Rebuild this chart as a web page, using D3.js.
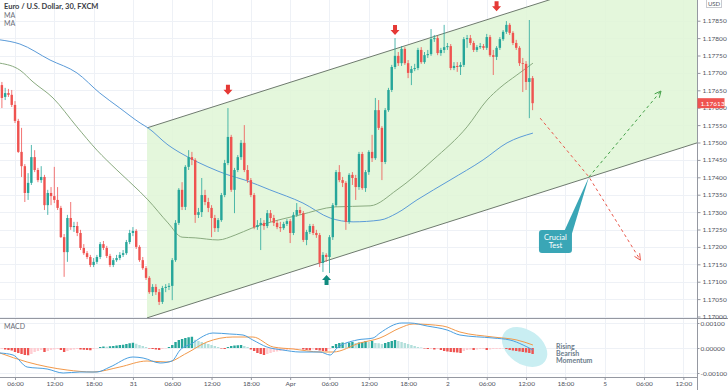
<!DOCTYPE html>
<html>
<head>
<meta charset="UTF-8">
<title>EURUSD 30</title>
<style>
  body { margin: 0; background: #fff; }
  svg text { font-family: "Lato", "DejaVu Sans", sans-serif; }
</style>
</head>
<body>
<div id="chart"></div>
<script src="https://d3js.org/d3.v7.min.js"></script>
<script>
// bar index 0 = Mar 30 00:00, one bar = 30 min; first visible candle is bar 8
var firstBar = 8;

var opens = [1.17665,1.17631,1.17642,1.17637,1.17608,1.17562,1.17473,1.17432,1.17355,1.17384,
1.17458,1.17421,1.17392,1.17401,1.17320,1.17355,1.17346,1.17335,1.17312,1.17228,
1.17185,1.17283,1.17257,1.17260,1.17240,1.17197,1.17182,1.17171,1.17148,1.17157,
1.17171,1.17208,1.17197,1.17174,1.17148,1.17162,1.17168,1.17177,1.17182,1.17214,
1.17240,1.17246,1.17200,1.17162,1.17139,1.17111,1.17070,1.17085,1.17070,1.17042,
1.17082,1.17085,1.17088,1.17162,1.17269,1.17364,1.17315,1.17430,1.17458,1.17450,
1.17292,1.17300,1.17349,1.17329,1.17312,1.17283,1.17254,1.17277,1.17349,1.17441,
1.17516,1.17364,1.17421,1.17458,1.17499,1.17421,1.17392,1.17349,1.17257,1.17263,
1.17269,1.17260,1.17297,1.17283,1.17269,1.17257,1.17254,1.17266,1.17274,1.17240,
1.17292,1.17306,1.17297,1.17220,1.17243,1.17260,1.17240,1.17234,1.17154,1.17177,
1.17171,1.17228,1.17320,1.17415,1.17392,1.17384,1.17272,1.17407,1.17398,1.17372,
1.17467,1.17369,1.17415,1.17473,1.17455,1.17593,1.17542,1.17444,1.17593,1.17651,
1.17717,1.17749,1.17728,1.17769,1.17728,1.17700,1.17711,1.17714,1.17766,1.17731,
1.17751,1.17754,1.17797,1.17800,1.17757,1.17766,1.17774,1.17777,1.17714,1.17720,
1.17717,1.17723,1.17797,1.17800,1.17786,1.17766,1.17774,1.17777,1.17772,1.17803,
1.17751,1.17746,1.17772,1.17797,1.17818,1.17838,1.17815,1.17786,1.17772,1.17728,
1.17726,1.17674,1.17685];
var highs = [1.17674,1.17657,1.17654,1.17651,1.17619,1.17568,1.17542,1.17438,1.17412,1.17493,
1.17478,1.17427,1.17432,1.17407,1.17364,1.17372,1.17430,1.17372,1.17318,1.17237,
1.17292,1.17329,1.17272,1.17272,1.17249,1.17208,1.17188,1.17177,1.17168,1.17177,
1.17214,1.17217,1.17203,1.17180,1.17168,1.17177,1.17185,1.17191,1.17220,1.17249,
1.17257,1.17251,1.17205,1.17171,1.17145,1.17116,1.17093,1.17093,1.17079,1.17088,
1.17093,1.17096,1.17168,1.17277,1.17369,1.17386,1.17435,1.17478,1.17473,1.17455,
1.17312,1.17398,1.17364,1.17341,1.17320,1.17292,1.17283,1.17355,1.17450,1.17599,
1.17522,1.17427,1.17464,1.17507,1.17550,1.17435,1.17398,1.17355,1.17277,1.17283,
1.17277,1.17306,1.17306,1.17292,1.17277,1.17272,1.17272,1.17280,1.17280,1.17300,
1.17326,1.17315,1.17303,1.17249,1.17266,1.17266,1.17249,1.17240,1.17185,1.17182,
1.17234,1.17326,1.17421,1.17435,1.17401,1.17389,1.17412,1.17415,1.17407,1.17473,
1.17473,1.17421,1.17478,1.17522,1.17628,1.17622,1.17547,1.17599,1.17657,1.17723,
1.17800,1.17760,1.17777,1.17774,1.17737,1.17720,1.17726,1.17772,1.17774,1.17760,
1.17766,1.17826,1.17809,1.17806,1.17772,1.17838,1.17786,1.17783,1.17731,1.17731,
1.17731,1.17803,1.17809,1.17809,1.17792,1.17780,1.17786,1.17783,1.17812,1.17809,
1.17766,1.17777,1.17803,1.17823,1.17849,1.17843,1.17820,1.17795,1.17777,1.17743,
1.17734,1.17852,1.17691];
var lows = [1.17599,1.17622,1.17631,1.17602,1.17556,1.17470,1.17401,1.17329,1.17335,1.17378,
1.17415,1.17386,1.17384,1.17306,1.17292,1.17320,1.17326,1.17306,1.17226,1.17114,
1.17157,1.17249,1.17243,1.17231,1.17191,1.17177,1.17165,1.17142,1.17142,1.17151,
1.17165,1.17191,1.17168,1.17142,1.17142,1.17157,1.17162,1.17171,1.17177,1.17208,
1.17231,1.17194,1.17157,1.17134,1.17105,1.17065,1.17059,1.17062,1.17033,1.17036,
1.17070,1.17076,1.17047,1.17157,1.17263,1.17306,1.17306,1.17421,1.17435,1.17269,
1.17283,1.17286,1.17320,1.17300,1.17228,1.17243,1.17243,1.17272,1.17343,1.17435,
1.17358,1.17297,1.17415,1.17450,1.17415,1.17384,1.17343,1.17251,1.17249,1.17191,
1.17249,1.17254,1.17272,1.17260,1.17251,1.17243,1.17249,1.17260,1.17211,1.17234,
1.17286,1.17292,1.17214,1.17205,1.17237,1.17234,1.17226,1.17142,1.17128,1.17157,
1.17125,1.17220,1.17315,1.17386,1.17372,1.17249,1.17266,1.17378,1.17335,1.17364,
1.17364,1.17358,1.17407,1.17444,1.17450,1.17536,1.17392,1.17438,1.17588,1.17645,
1.17711,1.17720,1.17720,1.17723,1.17685,1.17665,1.17705,1.17708,1.17726,1.17726,
1.17743,1.17749,1.17789,1.17751,1.17749,1.17757,1.17766,1.17708,1.17708,1.17703,
1.17694,1.17717,1.17772,1.17780,1.17760,1.17760,1.17769,1.17766,1.17766,1.17746,
1.17694,1.17737,1.17766,1.17792,1.17812,1.17809,1.17780,1.17766,1.17720,1.17645,
1.17651,1.17570,1.17593];
var closes = [1.17628,1.17642,1.17637,1.17608,1.17562,1.17473,1.17432,1.17355,1.17384,1.17458,
1.17421,1.17392,1.17401,1.17320,1.17355,1.17346,1.17335,1.17312,1.17228,1.17185,
1.17283,1.17257,1.17260,1.17240,1.17197,1.17182,1.17171,1.17148,1.17157,1.17171,
1.17208,1.17197,1.17174,1.17148,1.17162,1.17168,1.17177,1.17182,1.17214,1.17240,
1.17246,1.17200,1.17162,1.17139,1.17111,1.17070,1.17085,1.17070,1.17042,1.17082,
1.17085,1.17088,1.17162,1.17269,1.17364,1.17315,1.17430,1.17458,1.17450,1.17292,
1.17300,1.17349,1.17329,1.17312,1.17283,1.17254,1.17277,1.17349,1.17441,1.17516,
1.17364,1.17421,1.17458,1.17499,1.17421,1.17392,1.17349,1.17257,1.17263,1.17269,
1.17260,1.17297,1.17283,1.17269,1.17257,1.17254,1.17266,1.17274,1.17240,1.17292,
1.17306,1.17297,1.17220,1.17243,1.17260,1.17240,1.17234,1.17154,1.17177,1.17171,
1.17228,1.17320,1.17415,1.17392,1.17384,1.17272,1.17407,1.17398,1.17372,1.17467,
1.17369,1.17415,1.17473,1.17455,1.17593,1.17542,1.17444,1.17593,1.17651,1.17717,
1.17749,1.17728,1.17769,1.17728,1.17700,1.17711,1.17714,1.17766,1.17731,1.17751,
1.17754,1.17797,1.17800,1.17757,1.17766,1.17774,1.17777,1.17714,1.17720,1.17717,
1.17723,1.17797,1.17800,1.17786,1.17766,1.17774,1.17777,1.17772,1.17803,1.17751,
1.17746,1.17772,1.17797,1.17818,1.17838,1.17815,1.17786,1.17772,1.17728,1.17726,
1.17674,1.17685,1.17613];

// MACD histogram per candle, in units of 0.00001
var histogram = [-4,-6,-8,-10,-16,-20,-24,-28,-29,-24,-16,-12,-8,-16,-12,-8,-6,-4,-8,-16,
-12,-8,-6,-4,-6,-7,-8,-9,-4,-2,4,6,5,7,8,10,12,13,16,19,
21,17,12,8,4,-2,-4,-6,-8,-4,-2,4,12,24,32,36,40,43,45,33,
28,24,20,16,12,8,4,-2,-4,4,8,10,11,12,8,4,-6,-12,-20,-24,
-28,-24,-20,-16,-14,-12,-10,-8,-6,-4,-2,-1,-6,-8,-9,-6,-8,-10,-12,-13,
-4,8,16,20,22,20,22,24,20,22,24,28,24,28,20,19,16,20,24,28,
32,28,24,20,16,12,8,4,2,-2,-4,-4,-6,-4,-8,-12,-14,-16,-17,-18,
-20,-12,-8,-6,-8,-6,-4,-4,-8,-6,-4,-4,-4,-2,-4,-8,-10,-12,-14,-16,
-18,-20,-24];

// MACD and signal lines read at sample bars: [bar, value in 0.00001]
var macdLine = [[7.4,-20],[11.4,-28],[15.7,-76],[21.8,-84],[26.7,-100],[31.8,-96],[37,-96],[41,-76],
[48,-36],[51.1,-40],[56.3,-60],[59.9,-52],[62.4,-8],[66.3,20],[68.5,40],[72.4,60],[77.6,56],
[81.6,52],[84.6,32],[88.9,4],[93.8,-8],[99,-16],[105.1,-16],[108.2,-28],[110.3,0],[116.4,32],
[121.3,40],[123.4,60],[130.1,100],[132.6,100],[137.8,88],[143.9,72],[147.8,52],[157.9,40],
[163.1,32],[167.1,12],[170.1,-8]];
var signalLine = [[7.4,-20],[15.7,-56],[27.9,-88],[35.8,-96],[44,-76],[52.3,-52],[58.4,-56],
[64.5,-20],[70.6,24],[78.5,44],[84.6,44],[90.8,4],[96.9,-4],[105.1,-16],[109.1,-16],[117.3,20],
[123.4,40],[129.5,80],[133.5,96],[142.6,88],[147.8,64],[157.9,44],[165.2,32],[170.1,12]];

// moving averages read at sample bars: [bar, price]
var maFast = [[7.4,1.17728],[13.5,1.17708],[17.5,1.17674],[23.6,1.17628],[30.9,1.17545],[37,1.17478],
[43.1,1.17421],[50.2,1.17358],[52.6,1.17335],[58.7,1.17269],[63,1.17228],[67,1.17226],[74,1.17220],
[79.2,1.17234],[84.3,1.17254],[89.2,1.17269],[99,1.17292],[109.7,1.17315],[120.4,1.17318],
[128.6,1.17364],[139.6,1.17450],[150,1.17545],[156.1,1.17622],[160,1.17657],[165.2,1.17694],[170.1,1.17728]];
var maSlow = [[7.4,1.17795],[13.5,1.17783],[22.7,1.17737],[30.9,1.17700],[37.9,1.17642],[44,1.17599],
[50.2,1.17556],[52.6,1.17542],[58.7,1.17493],[64.8,1.17458],[70.9,1.17430],[77,1.17407],[82.2,1.17392],
[89.8,1.17364],[99.9,1.17326],[108.2,1.17283],[115.2,1.17272],[123.4,1.17277],[128.6,1.17297],
[134.7,1.17335],[144.8,1.17392],[154.9,1.17450],[162.2,1.17499],[170.1,1.17527]];

// time axis labels every 12 bars starting at bar 12
var timeLabels = ["06:00","12:00","18:00","31","06:00","12:00","18:00","Apr","06:00","12:00","18:00",
"2","06:00","12:00","18:00","5","06:00","12:00"];
var priceTicks = [1.17000,1.17050,1.17100,1.17150,1.17200,1.17250,1.17300,1.17350,1.17400,1.17450,
1.17500,1.17550,1.17600,1.17650,1.17700,1.17750,1.17800,1.17850];
var macdTicks = [-100, 0, 100];
var lastPrice = 1.17613;

// drawn channel: [bar, price] corners
var channelTop = [[52.3,1.17542],[220.2,1.18045]];
var channelBottom = [[52.3,1.16996],[220.2,1.17499]];
// projected paths
var pivot = [187.2,1.17401];
var bearPath = [[172.3,1.17570],pivot,[202.9,1.17162]];
var bullPath = [pivot,[209.2,1.17648]];
var markers = [{bar:77,price:1.17637,dir:"down"},{bar:128,price:1.17809,dir:"down"},
  {bar:159,price:1.17877,dir:"down"},{bar:107.1,price:1.17119,dir:"up"}];

var width = 728, height = 390;
var plotRight = 697.5, mainBottom = 318, macdBottom = 377;

var svg = d3.select("#chart").append("svg")
  .attr("width", width).attr("height", height);

var x = d3.scaleLinear().domain([12 - 15 / 3.276, 12 + 682.5 / 3.276]).range([0, plotRight]);
var y = d3.scaleLinear().domain([1.169957, 1.179095]).range([mainBottom, 0]);
var ym = d3.scaleLinear().domain([-116, 120]).range([macdBottom, mainBottom]);

var tickBars = timeLabels.map(function (d, i) { return 12 + i * 12; });

svg.append("defs").append("clipPath").attr("id", "mainClip")
  .append("rect").attr("x", 0).attr("y", 0).attr("width", plotRight).attr("height", mainBottom);

// grid
var grid = svg.append("g").attr("stroke", "#eef1f6").attr("stroke-width", 1);
grid.selectAll(".vg").data(tickBars).enter().append("line")
  .attr("x1", function (d) { return Math.round(x(d)) + 0.5; })
  .attr("x2", function (d) { return Math.round(x(d)) + 0.5; })
  .attr("y1", 0).attr("y2", macdBottom);
grid.selectAll(".hg").data(priceTicks).enter().append("line")
  .attr("x1", 0).attr("x2", plotRight)
  .attr("y1", function (d) { return Math.round(y(d)) + 0.5; })
  .attr("y2", function (d) { return Math.round(y(d)) + 0.5; });
grid.selectAll(".mg").data(macdTicks).enter().append("line")
  .attr("x1", 0).attr("x2", plotRight)
  .attr("y1", function (d) { return Math.round(ym(d)) + 0.5; })
  .attr("y2", function (d) { return Math.round(ym(d)) + 0.5; });

var main = svg.append("g").attr("clip-path", "url(#mainClip)");

// channel fill and lines
var chanPoly = channelTop.concat(channelBottom.slice().reverse());
main.append("path")
  .attr("d", d3.line().x(function (d) { return x(d[0]); }).y(function (d) { return y(d[1]); })(chanPoly) + "Z")
  .attr("fill", "#dff6d6").attr("opacity", 0.85);
[channelTop, channelBottom].forEach(function (c) {
  main.append("line")
    .attr("x1", x(c[0][0])).attr("y1", y(c[0][1]))
    .attr("x2", x(c[1][0])).attr("y2", y(c[1][1]))
    .attr("stroke", "#6e7a6e").attr("stroke-width", 1);
});

// moving averages
var maLine = d3.line().curve(d3.curveMonotoneX)
  .x(function (d) { return x(d[0]); }).y(function (d) { return y(d[1]); });
main.append("path").attr("d", maLine(maSlow)).attr("fill", "none")
  .attr("stroke", "#5b9bd8").attr("stroke-width", 1);
main.append("path").attr("d", maLine(maFast)).attr("fill", "none")
  .attr("stroke", "#8aab80").attr("stroke-width", 1);

// candles
var candles = closes.map(function (c, i) {
  return { bar: firstBar + i, o: opens[i], h: highs[i], l: lows[i], c: c };
});
var up = "#26a69a", down = "#ef5350";
var cg = main.append("g").selectAll("g").data(candles).enter().append("g");
cg.append("line")
  .attr("x1", function (d) { return x(d.bar); }).attr("x2", function (d) { return x(d.bar); })
  .attr("y1", function (d) { return y(d.h); }).attr("y2", function (d) { return y(d.l); })
  .attr("stroke", function (d) { return d.c >= d.o ? up : down; }).attr("stroke-width", 0.8);
cg.append("rect")
  .attr("x", function (d) { return x(d.bar) - 1.2; }).attr("width", 2.4)
  .attr("y", function (d) { return y(Math.max(d.o, d.c)); })
  .attr("height", function (d) { return Math.max(0.8, Math.abs(y(d.o) - y(d.c))); })
  .attr("fill", function (d) { return d.c >= d.o ? up : down; });

// markers
main.selectAll(".mk").data(markers).enter().append("path")
  .attr("transform", function (d) {
    return "translate(" + x(d.bar) + "," + y(d.price) + ")" + (d.dir === "up" ? "" : " scale(1,-1)");
  })
  .attr("d", "M0,0 L4.5,5 L2,5 L2,10 L-2,10 L-2,5 L-4.5,5 Z")
  .attr("fill", function (d) { return d.dir === "up" ? "#0f8a7e" : "#e53935"; });

// projection dashes
function drawPath(pts, color) {
  var g = main.append("g");
  g.append("path")
    .attr("d", d3.line().x(function (d) { return x(d[0]); }).y(function (d) { return y(d[1]); })(pts))
    .attr("fill", "none").attr("stroke", color).attr("stroke-width", 1).attr("stroke-dasharray", "3,3");
  var a = pts[pts.length - 2], b = pts[pts.length - 1];
  var bx = x(b[0]), by = y(b[1]);
  var ang = Math.atan2(by - y(a[1]), bx - x(a[0]));
  [0.45, -0.45].forEach(function (off) {
    g.append("line").attr("x1", bx).attr("y1", by)
      .attr("x2", bx - 7 * Math.cos(ang + off)).attr("y2", by - 7 * Math.sin(ang + off))
      .attr("stroke", color).attr("stroke-width", 1);
  });
}
drawPath(bearPath, "#e8584c");
drawPath(bullPath, "#43a047");

// callout
var px = x(pivot[0]), py = y(pivot[1]);
main.append("path")
  .attr("d", "M" + (px - 26) + ",234 L" + px + "," + py + " L" + (px - 18) + ",237 Z")
  .attr("fill", "#3aa6b6");
main.append("rect").attr("x", px - 50).attr("y", 230).attr("width", 33).attr("height", 23)
  .attr("rx", 3).attr("fill", "#3aa6b6");
main.append("text").attr("x", px - 33.5).attr("y", 240).attr("text-anchor", "middle")
  .attr("font-size", 7.5).attr("fill", "#fff").text("Crucial");
main.append("text").attr("x", px - 33.5).attr("y", 248).attr("text-anchor", "middle")
  .attr("font-size", 7.5).attr("fill", "#fff").text("Test");

// MACD pane
var lastBar = candles[candles.length - 1].bar;
svg.append("ellipse").attr("cx", x(lastBar) - 8).attr("cy", 347).attr("rx", 25).attr("ry", 17)
  .attr("transform", "rotate(35," + (x(lastBar) - 8) + ",347)")
  .attr("fill", "#c9eef2");

svg.append("g").selectAll("rect").data(histogram).enter().append("rect")
  .attr("x", function (d, i) { return x(firstBar + i) - 1.2; }).attr("width", 2.4)
  .attr("y", function (d) { return Math.min(ym(0), ym(d)); })
  .attr("height", function (d) { return Math.abs(ym(d) - ym(0)); })
  .attr("fill", function (d, i) {
    var prev = i > 0 ? histogram[i - 1] : d;
    if (d >= 0) return d > prev ? "#26a69a" : "#b2dfdb";
    return d < prev ? "#ef5350" : "#ffcdd2";
  });

var mLine = d3.line().curve(d3.curveMonotoneX)
  .x(function (d) { return x(d[0]); }).y(function (d) { return ym(d[1]); });
svg.append("path").attr("d", mLine(signalLine)).attr("fill", "none")
  .attr("stroke", "#f2994a").attr("stroke-width", 1);
svg.append("path").attr("d", mLine(macdLine)).attr("fill", "none")
  .attr("stroke", "#4a9fe0").attr("stroke-width", 1);

["Rising", "Bearish", "Momentum"].forEach(function (t, i) {
  svg.append("text").attr("x", 556).attr("y", 349 + i * 7)
    .attr("font-size", 7).attr("font-weight", "bold").attr("fill", "#6d7d8c").text(t);
});

// frame lines
var frame = svg.append("g").attr("stroke", "#9598a1").attr("stroke-width", 1);
frame.append("line").attr("x1", 0).attr("x2", width).attr("y1", mainBottom + 0.5).attr("y2", mainBottom + 0.5);
frame.append("line").attr("x1", 0).attr("x2", plotRight).attr("y1", macdBottom + 0.5).attr("y2", macdBottom + 0.5);
frame.append("line").attr("x1", plotRight).attr("x2", plotRight).attr("y1", 0).attr("y2", height);

// axes
var fmtP = d3.format(".5f");
var yAxis = svg.append("g").attr("transform", "translate(" + plotRight + ",0)")
  .call(d3.axisRight(y).tickValues(priceTicks).tickSize(3).tickPadding(2).tickFormat(fmtP));
var mAxis = svg.append("g").attr("transform", "translate(" + plotRight + ",0)")
  .call(d3.axisRight(ym).tickValues(macdTicks).tickSize(2).tickPadding(1)
    .tickFormat(function (d) { return d3.format(".5f")(d / 1e5).replace("\u2212", "-"); }));
var xAxis = svg.append("g").attr("transform", "translate(0," + macdBottom + ")")
  .call(d3.axisBottom(x).tickValues(tickBars).tickSize(3).tickPadding(1)
    .tickFormat(function (d, i) { return timeLabels[i]; }));
[yAxis, mAxis, xAxis].forEach(function (a) {
  a.select(".domain").remove();
  a.selectAll("line").attr("stroke", "#9598a1");
  a.selectAll("text").attr("font-size", 6.5).attr("fill", "#50535e").attr("font-family", "Lato, DejaVu Sans, sans-serif");
});

// last price tag
svg.append("rect").attr("x", plotRight).attr("y", y(lastPrice) - 5).attr("width", 27).attr("height", 10)
  .attr("fill", "#ef5350");
svg.append("text").attr("x", plotRight + 3).attr("y", y(lastPrice) + 2.5)
  .attr("font-size", 6.5).attr("fill", "#fff").text(fmtP(lastPrice));

// currency box
svg.append("rect").attr("x", 706.5).attr("y", -3.5).attr("width", 15).attr("height", 11)
  .attr("fill", "#fff").attr("stroke", "#c8cad0");
svg.append("text").attr("x", 714).attr("y", 5.5).attr("text-anchor", "middle")
  .attr("font-size", 6).attr("fill", "#50535e").text("USD");

// legends
svg.append("text").attr("x", 4).attr("y", 9).attr("font-size", 7.5).attr("font-weight", "bold")
  .attr("fill", "#3a3d45").text("Euro / U.S. Dollar, 30, FXCM");
svg.append("text").attr("x", 4).attr("y", 17.5).attr("font-size", 7).attr("fill", "#6a6d78").text("MA");
svg.append("text").attr("x", 4).attr("y", 25.5).attr("font-size", 7).attr("fill", "#6a6d78").text("MA");
svg.append("text").attr("x", 4).attr("y", 328.5).attr("font-size", 7).attr("fill", "#6a6d78").text("MACD");
</script>
</body>
</html>
